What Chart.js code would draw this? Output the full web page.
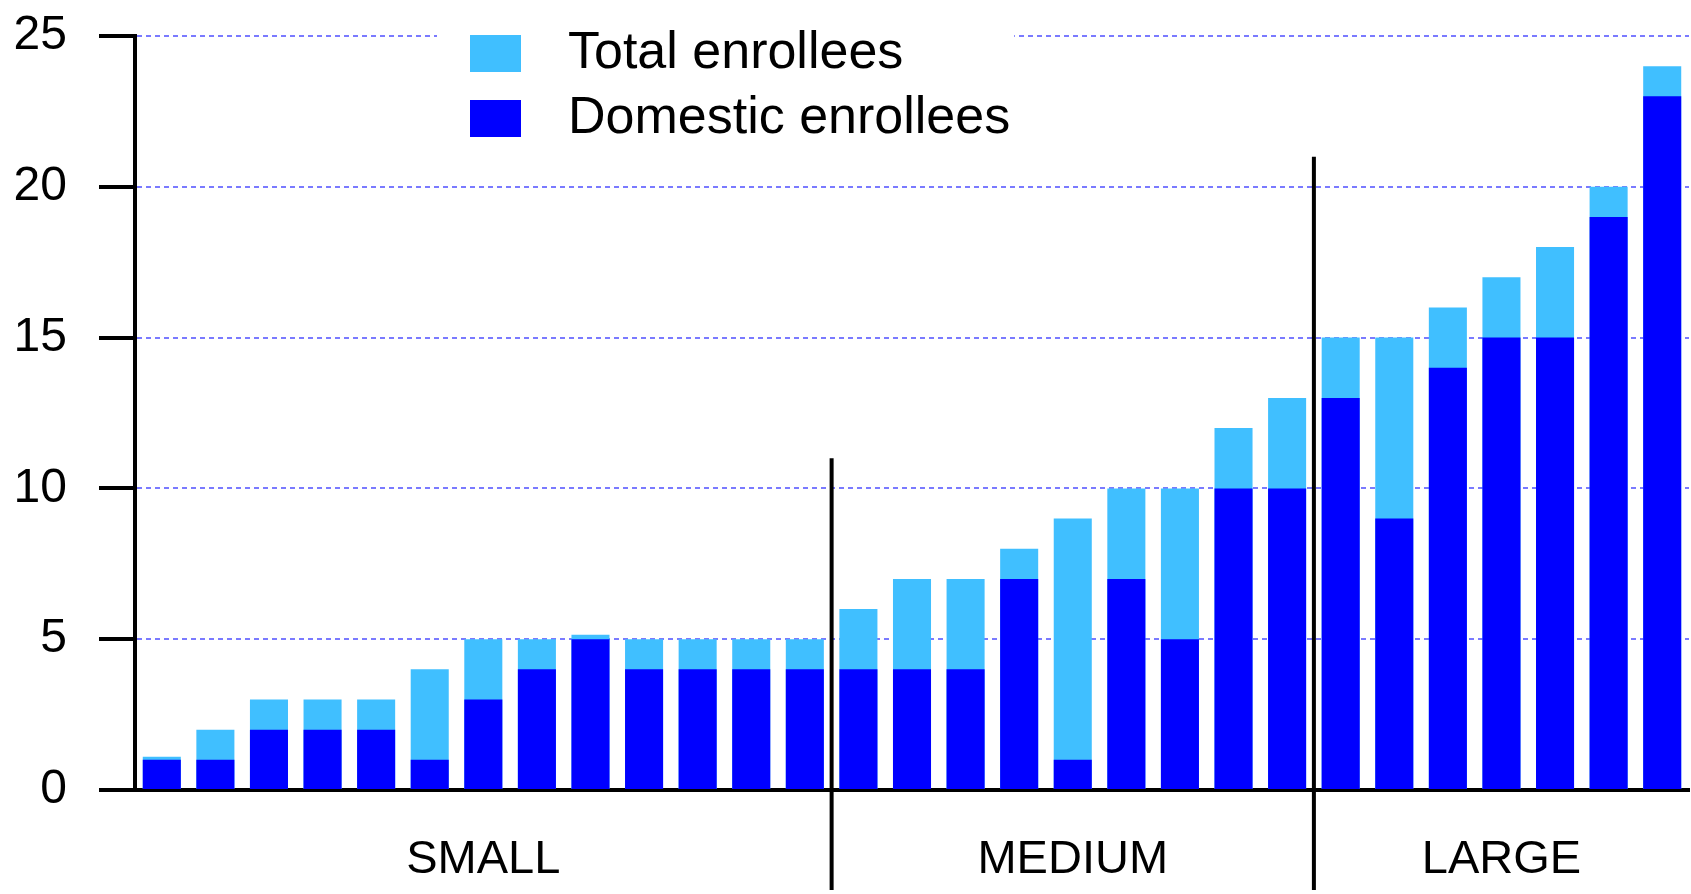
<!DOCTYPE html>
<html>
<head>
<meta charset="utf-8">
<title>Total and domestic enrollees</title>
<script src="https://cdn.jsdelivr.net/npm/chart.js@4.4.1/dist/chart.umd.min.js"></script>
<style>
  html, body { margin: 0; padding: 0; background: #fff; }
  #wrap { width: 1691px; height: 894px; }
</style>
</head>
<body>
<div id="wrap"><canvas id="enrollChart" width="1691" height="894"></canvas></div>
<script>
    // Values, one entry per program (bar)
    const totalEnrollees = [1.1, 2, 3, 3, 3, 4, 5, 5, 5.15, 5, 5, 5, 5,
                            6, 7, 7, 8, 9, 10, 10, 12, 13,
                            15, 15, 16, 17, 18, 20, 24];
    const domesticEnrollees = [1, 1, 2, 2, 2, 1, 3, 4, 5, 4, 4, 4, 4,
                               4, 4, 4, 7, 1, 7, 5, 10, 10,
                               13, 9, 14, 15, 15, 19, 23];
    const groupNames = ['SMALL', 'MEDIUM', 'LARGE'];
    const groupSizes = [13, 9, 7];
    const dividerTops = [11, 21];   // y value where each group divider starts
    const yTicks = [0, 5, 10, 15, 20, 25];

    const FONT = '"Liberation Sans", Arial, Helvetica, sans-serif';

    // one label per bar, e.g. "SMALL 3"
    const labels = [];
    groupNames.forEach((name, g) => {
        for (let i = 1; i <= groupSizes[g]; i++) labels.push(name + ' ' + i);
    });

    // Group dividers + SMALL / MEDIUM / LARGE under the axis
    const groupPlugin = {
        id: 'groupLabels',
        afterDatasetsDraw(chart) {
            const { ctx, chartArea, scales: { x, y } } = chart;
            ctx.save();
            ctx.strokeStyle = '#000';
            ctx.lineWidth = 4;
            ctx.fillStyle = '#000';
            ctx.font = '47px ' + FONT;
            ctx.textAlign = 'center';
            ctx.textBaseline = 'middle';
            let start = 0;
            groupSizes.forEach((size, g) => {
                const end = start + size - 1;
                if (g < groupSizes.length - 1) {
                    const px = x.getPixelForValue(end + 0.5);
                    ctx.beginPath();
                    ctx.moveTo(px, y.getPixelForValue(dividerTops[g]));
                    ctx.lineTo(px, chartArea.bottom + 100);
                    ctx.stroke();
                }
                ctx.fillText(groupNames[g], x.getPixelForValue((start + end) / 2), chartArea.bottom + 70);
                start += size;
            });
            ctx.restore();
        }
    };

    // Legend stacked in two rows on a white patch over the top grid line
    const legendPlugin = {
        id: 'boxLegend',
        afterDraw(chart) {
            const { ctx, chartArea } = chart;
            const left = chartArea.left + 335;
            const top = chartArea.top - 1;
            ctx.save();
            ctx.font = '52px ' + FONT;
            const widest = Math.max(...chart.data.datasets.map(ds => ctx.measureText(ds.label).width));
            ctx.fillStyle = '#fff';
            ctx.fillRect(left - 33, top - 16, 33 + 98 + widest + 4, 150);
            chart.data.datasets.forEach((ds, i) => {
                const rowTop = top + i * 65;
                ctx.fillStyle = ds.backgroundColor;
                ctx.fillRect(left, rowTop, 51, 37);
                ctx.fillStyle = '#000';
                ctx.textBaseline = 'middle';
                ctx.fillText(ds.label, left + 98, rowTop + 19);
            });
            ctx.restore();
        }
    };

    new Chart(document.getElementById('enrollChart'), {
        type: 'bar',
        data: {
            labels: labels,
            datasets: [
                {
                    label: 'Total enrollees',
                    data: totalEnrollees,
                    backgroundColor: '#40bfff',
                    order: 1
                },
                {
                    label: 'Domestic enrollees',
                    data: domesticEnrollees,
                    backgroundColor: '#0000ff',
                    order: 0
                }
            ]
        },
        options: {
            responsive: false,
            animation: false,
            devicePixelRatio: 1,
            layout: { padding: { top: 36, right: 2, bottom: 104, left: 0 } },
            datasets: {
                bar: { barPercentage: 0.71, categoryPercentage: 1, borderWidth: 0 }
            },
            plugins: {
                legend: { display: false }
            },
            scales: {
                x: {
                    stacked: true,
                    grid: { display: false, drawTicks: false },
                    ticks: { display: false },
                    border: { color: '#000', width: 4 }
                },
                y: {
                    stacked: false,
                    min: 0,
                    max: 25,
                    afterFit: (scale) => {
                        scale.width = 135;
                        // keep the plot top at the 25 line, labels may overhang
                        scale.paddingTop = 0;
                        scale.paddingBottom = 0;
                    },
                    afterBuildTicks: (scale) => { scale.ticks = yTicks.map(v => ({ value: v })); },
                    ticks: {
                        color: '#000',
                        padding: 32,
                        font: { family: FONT, size: 48 }
                    },
                    grid: {
                        color: (c) => (c.tick && c.tick.value === 0) ? 'rgba(0,0,0,0)' : '#7a7aff',
                        lineWidth: 2,
                        tickLength: 36,
                        tickColor: '#000',
                        tickWidth: 4,
                        tickBorderDash: []
                    },
                    border: { color: '#000', width: 4, dash: [5, 4] }
                }
            }
        },
        plugins: [groupPlugin, legendPlugin]
    });
</script>
</body>
</html>
